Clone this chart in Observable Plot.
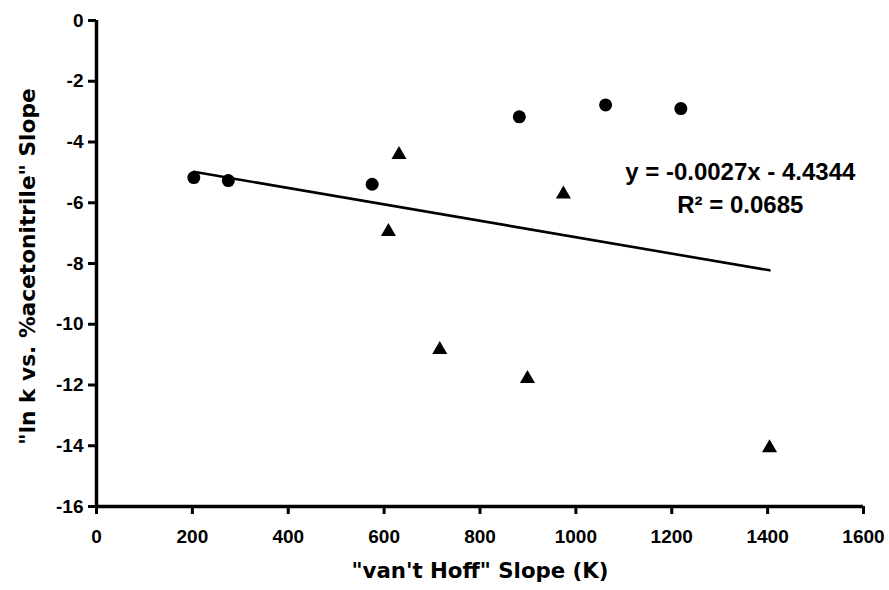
<!DOCTYPE html>
<html><head><meta charset="utf-8">
<script src="https://cdn.jsdelivr.net/npm/d3@7"></script>
<script src="https://cdn.jsdelivr.net/npm/@observablehq/plot@0.6"></script>
<style>
html,body{margin:0;padding:0;background:#fff}
#chart svg{display:block}
#chart svg g[aria-label$="tick label"]{font-size:19px;font-weight:bold}
#chart svg text{font-weight:bold}
</style>
</head><body><div id="chart"></div>
<script>
// Data
const circleX = [203, 275, 575, 882, 1062, 1219];
const circleY = [-5.17, -5.27, -5.39, -3.17, -2.78, -2.90];
const triangleX = [609, 631, 716, 899, 974, 1404];
const triangleY = [-6.95, -4.42, -10.84, -11.79, -5.72, -14.07];
// Linear trend (from the reference equation)
const slope = -0.0027;
const intercept = -4.4344;
const equationText = "y = -0.0027x - 4.4344";
const r2Text = "R² = 0.0685";
const equationAt = {x: 1343, y: -5.0};
const r2At = {x: 1343, y: -6.1};
// Axes
const xTicks = [0, 200, 400, 600, 800, 1000, 1200, 1400, 1600];
const yTicks = [0, -2, -4, -6, -8, -10, -12, -14, -16];
const xLabel = "\"van't Hoff\" Slope (K)";
const yLabel = "\"ln k vs. %acetonitrile\" Slope";

const circles = circleX.map((x, i) => ({x, y: circleY[i]}));
const triangles = triangleX.map((x, i) => ({x, y: triangleY[i]}));
const allX = circleX.concat(triangleX);
const x0 = d3.min(allX), x1 = d3.max(allX);
const trend = [x0, x1].map(x => ({x, y: slope * x + intercept}));

const font = "'Liberation Sans', Arial, Helvetica, sans-serif";
const labelFont = "'DejaVu Sans', 'Liberation Sans', Arial, sans-serif";
const fmt = d => String(d);

const chart = Plot.plot({
  width: 889,
  height: 590,
  marginLeft: 96,
  marginRight: 26,
  marginTop: 20,
  marginBottom: 84,
  style: {fontFamily: font, fontWeight: "bold", fontSize: "19px", color: "#000", background: "#fff"},
  x: {domain: [0, 1600]},
  y: {domain: [-16, 0]},
  marks: [
    Plot.axisX({ticks: xTicks, tickFormat: fmt, tickSize: 8, tickPadding: 15, strokeWidth: 3, label: null}),
    Plot.axisY({ticks: yTicks, tickFormat: fmt, tickSize: 8, tickPadding: 5, strokeWidth: 3, label: null}),
    Plot.ruleY([-16], {strokeWidth: 3.5}),
    Plot.ruleX([0], {strokeWidth: 3.5}),
    Plot.line(trend, {x: "x", y: "y", stroke: "#000", strokeWidth: 2.6}),
    Plot.dot(circles, {x: "x", y: "y", r: 6.5, symbol: "circle", fill: "#000", stroke: "none"}),
    Plot.dot(triangles, {x: "x", y: "y", r: 5.6, symbol: "triangle", fill: "#000", stroke: "none"}),
    Plot.text([equationAt], {x: "x", y: "y", text: () => equationText, fontSize: 24, fontWeight: "bold", fill: "#000"}),
    Plot.text([r2At], {x: "x", y: "y", text: () => r2Text, fontSize: 24, fontWeight: "bold", fill: "#000"}),
    Plot.text([xLabel], {frameAnchor: "bottom", dy: 71, text: d => d, fontFamily: labelFont, fontSize: 21.3, fontWeight: "bold", fill: "#000"}),
    Plot.text([yLabel], {frameAnchor: "left", textAnchor: "middle", dx: -68, dy: 3, rotate: -90, text: d => d, fontFamily: labelFont, fontSize: 21.7, fontWeight: "bold", fill: "#000"})
  ]
});
document.getElementById("chart").append(chart);
</script>
</body></html>
